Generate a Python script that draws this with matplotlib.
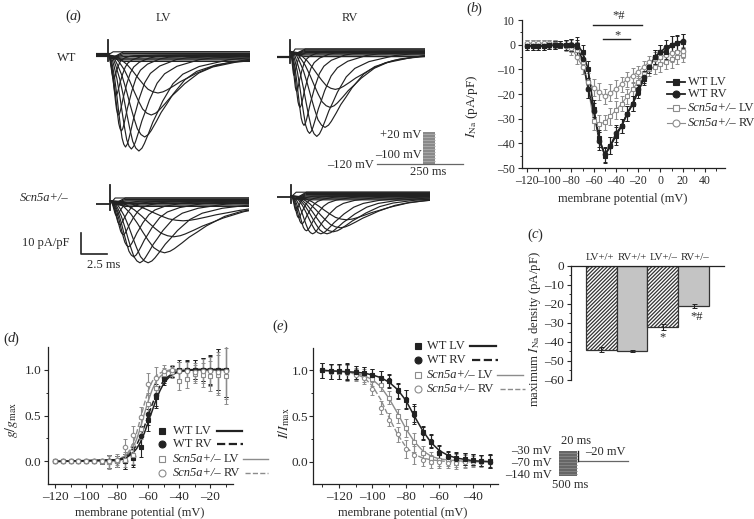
import numpy as np
import matplotlib
matplotlib.use('Agg')
import matplotlib.pyplot as plt
from matplotlib.ticker import MultipleLocator, FuncFormatter

plt.rcParams['font.family'] = ['Liberation Serif', 'DejaVu Sans']
plt.rcParams['mathtext.fontset'] = 'stix'
plt.rcParams['hatch.linewidth'] = 0.9
plt.rcParams['axes.linewidth'] = 0.9

W, H = 754, 519
DARK = '#222222'
GREY = '#8c8c8c'
TXT = '#2a2a2a'

# (a) current traces: time to peak (ms) and peak depth (pA/pF) of each trace
wt_lv_t = [0.55, 0.8, 1.03, 1.3, 1.7, 2.27, 3.0, 3.56, 4.2, 4.85]
wt_lv_i = [12, 20, 30, 38, 46, 47, 48, 41, 30, 19]
wt_rv_t = [0.4, 0.65, 0.97, 1.36, 1.9, 2.6, 3.4, 3.9, 4.4]
wt_rv_i = [12, 20, 28, 37, 41, 42.5, 38, 28, 19]
ko_lv_t = [0.65, 0.97, 1.3, 1.8, 2.3, 2.9, 3.7, 5.3, 6.2, 7.1]
ko_lv_i = [7.5, 12, 17, 23, 28, 31, 31, 26, 18, 10]
ko_rv_t = [0.5, 0.75, 1.07, 1.5, 2.1, 2.9, 3.5, 4.1, 4.8, 5.4]
ko_rv_i = [7.5, 11, 14, 17.5, 19, 19, 19, 18, 16, 12]

# shape of one trace
rise_u = [-1.0, -0.84, -0.74, -0.62, -0.5, -0.4, -0.3, -0.2, -0.1, 0.0]
rise_v = [0.0, 0.03, 0.12, 0.25, 0.43, 0.6, 0.76, 0.9, 0.97, 1.0]
fall_u = [0.1, 0.18, 0.32, 0.45, 0.6, 0.77, 1.1, 1.42, 1.95, 2.9, 3.5, 8.0]
fall_v = [0.97, 0.92, 0.81, 0.7, 0.6, 0.48, 0.3, 0.2, 0.12, 0.05, 0.03, 0.0]

# (b) current-voltage
iv_v = [-120, -115, -110, -105, -100, -95, -90, -85, -80, -75, -70, -65, -60, -55, -50,
        -45, -40, -35, -30, -25, -20, -15, -10, -5, 0, 5, 10, 15, 20]
iv_wt_lv = [-0.5, -0.5, -0.5, -0.5, -0.3, -0.2, 0, 0, 0, 0, -3, -10, -26, -38, -45,
            -41, -37, -33, -28, -24, -19, -14, -9, -5, -3, -3, 0, 0.5, 1.2]
iv_wt_rv = [-0.5, -0.5, -0.5, -0.5, -0.3, -0.2, 0, 0, 0, -1, -6, -18, -27, -39, -44.5,
            -41, -36, -33, -28, -24, -18, -13, -9, -5, -3, -1, 0, 0.8, 1.5]
iv_ko_lv = [0.3, 0.3, 0.3, 0.3, 0.3, 0.2, 0, -0.3, -0.5, -2, -7, -18, -31, -32, -31.5,
            -29, -26.5, -24, -21, -18, -15, -12, -10, -9, -8, -7, -6, -5, -4]
iv_ko_rv = [0.5, 0.5, 0.5, 0.5, 0.5, 0.3, 0, -0.5, -1.5, -5, -9, -15, -17.5, -19, -21,
            -19.5, -18, -16, -14, -12.5, -11, -9, -7, -6, -5, -4, -3.5, -3, -2.5]
iv_err = [1.5, 1.5, 1.5, 1.5, 1.5, 1.5, 1.5, 2, 2.5, 3, 3, 3.5, 3.5, 3.5, 3,
          3.5, 3.5, 3, 3, 3, 2.5, 2.5, 2.5, 3, 3, 3, 3.5, 3, 3]

# (c) peak density
c_labels = ['LV+/+', 'RV+/+', 'LV+/\u2013', 'RV+/\u2013']
c_values = [-44, -45, -32, -21]
c_err = [1.5, 0.5, 1.5, 1]

# (d) activation
act_v = [-120, -115, -110, -105, -100, -95, -90, -85, -80, -75, -70, -65, -60, -55, -50,
         -45, -40, -35, -30, -25, -20, -15, -10]
act_wt_lv = [0, 0, 0, 0, 0, 0, 0, 0, 0, 0, 0.04, 0.16, 0.45, 0.7, 0.9,
             0.98, 1.0, 1.0, 1.0, 1.0, 1.0, 1.0, 1.0]
act_wt_rv = [0, 0, 0, 0, 0, 0, 0, 0, 0, 0, 0.06, 0.28, 0.52, 0.72, 0.92,
             0.98, 0.98, 0.99, 1.0, 1.0, 0.99, 1.0, 1.0]
act_ko_lv = [0, 0, 0, 0, 0, 0, 0, -0.01, 0, 0.02, 0.07, 0.35, 0.62, 0.8, 0.95,
             0.97, 0.88, 0.9, 0.95, 0.94, 0.93, 0.94, 0.93]
act_ko_rv = [0, 0, 0, 0, 0, 0, 0, 0, 0.02, 0.16, 0.29, 0.48, 0.84, 0.91, 0.98,
             0.99, 0.98, 0.98, 0.97, 0.98, 0.98, 0.97, 0.98]
act_err = [0.02, 0.02, 0.02, 0.02, 0.02, 0.02, 0.03, 0.07, 0.06, 0.08, 0.1, 0.11, 0.12, 0.12, 0.07,
           0.06, 0.1, 0.1, 0.1, 0.13, 0.16, 0.22, 0.3]

fit_d_v = [-120, -80, -75, -72.5, -70, -67.5, -65, -62.5, -60, -57.5, -55, -52.5, -50, -47.5, -45, -42.5, -40, -35, -30, -10]
fit_d_wt_lv = [0, 0.01, 0.03, 0.06, 0.09, 0.14, 0.21, 0.31, 0.43, 0.55, 0.67, 0.77, 0.85, 0.9, 0.94, 0.96, 0.98, 0.99, 1, 1]
fit_d_wt_rv = [0, 0.02, 0.04, 0.07, 0.12, 0.18, 0.27, 0.38, 0.5, 0.62, 0.73, 0.82, 0.88, 0.92, 0.95, 0.97, 0.98, 0.99, 1, 1]
fit_d_ko_lv = [0, 0.02, 0.05, 0.09, 0.15, 0.24, 0.37, 0.52, 0.66, 0.78, 0.87, 0.92, 0.96, 0.98, 0.99, 0.99, 1, 1, 1, 1]
fit_d_ko_rv = [0, 0.02, 0.06, 0.11, 0.19, 0.31, 0.47, 0.63, 0.77, 0.87, 0.93, 0.96, 0.98, 0.99, 1, 1, 1, 1, 1, 1]

# (e) inactivation
ina_v = [-130, -125, -120, -115, -110, -105, -100, -95, -90, -85, -80, -75, -70, -65, -60,
         -55, -50, -45, -40, -35, -30]
ina_wt_lv = [1.0, 0.99, 0.99, 0.99, 0.98, 0.97, 0.95, 0.92, 0.88, 0.78, 0.68, 0.53, 0.32, 0.22, 0.1,
             0.06, 0.04, 0.03, 0.02, 0.01, 0.01]
ina_wt_rv = [1.0, 0.99, 0.99, 0.98, 0.98, 0.97, 0.95, 0.92, 0.89, 0.77, 0.69, 0.51, 0.31, 0.23, 0.11,
             0.05, 0.03, 0.03, 0.02, 0.01, 0.0]
ina_ko_lv = [1.0, 0.99, 0.98, 0.98, 0.96, 0.94, 0.9, 0.84, 0.7, 0.5, 0.37, 0.21, 0.1, 0.04, 0.02,
             0.01, 0.01, 0.01, 0.01, 0.01, 0.0]
ina_ko_rv = [1.0, 0.98, 0.98, 0.97, 0.95, 0.92, 0.8, 0.59, 0.46, 0.3, 0.14, 0.07, 0.02, 0.0, 0.0,
             -0.01, -0.01, 0.0, 0.0, 0.0, 0.0]
ina_err = [0.08, 0.08, 0.08, 0.09, 0.07, 0.07, 0.07, 0.07, 0.07, 0.08, 0.1, 0.1, 0.07, 0.07, 0.07,
           0.06, 0.07, 0.07, 0.06, 0.06, 0.07]

fit_e_v = [-130, -120, -110, -105, -100, -95, -90, -85, -80, -75, -70, -65, -60, -55, -50, -40, -30]
fit_e_wt = [1.0, 0.99, 0.98, 0.97, 0.95, 0.92, 0.87, 0.79, 0.67, 0.5, 0.34, 0.21, 0.12, 0.07, 0.04, 0.01, 0.0]
fit_e_ko_lv = [1.0, 0.99, 0.97, 0.94, 0.9, 0.82, 0.69, 0.53, 0.36, 0.22, 0.12, 0.06, 0.03, 0.02, 0.01, 0.0, 0.0]
fit_e_ko_rv = [1.0, 0.99, 0.96, 0.92, 0.83, 0.68, 0.48, 0.3, 0.16, 0.08, 0.04, 0.02, 0.01, 0.0, 0.0, 0.0, 0.0]

fig = plt.figure(figsize=(W / 100, H / 100), dpi=100)


def px_axes(left, top, right, bottom):
    return fig.add_axes([left / W, 1 - bottom / H, (right - left) / W, (bottom - top) / H])


def trace_panel(left, right, stim_x, base_y, pre, post, spike, peak_t, peak_i, bands, lw_pre):
    # 10.3 px per ms, 2 px per pA/pF
    top, bottom = base_y - 25, base_y + 110
    ax = px_axes(left, top, right, bottom)
    ax.set_xlim((left - stim_x) / 10.3, (right - stim_x) / 10.3)
    ax.set_ylim((base_y - bottom) / 2, (base_y - top) / 2)
    ax.axis('off')
    t0, t1 = ax.get_xlim()
    ax.plot([t0, 0], [pre, pre], color=DARK, lw=lw_pre)
    ax.plot([0, 0], [pre - 3, spike], color=DARK, lw=1.3)
    ax.plot([0, 0.5, t1], [pre, post + bands[0], post + bands[0]], color=DARK, lw=0.8)
    for b in bands:
        ax.plot([0.4, 1.5, t1], [post - 1.5, post + b, post + b], color=DARK, lw=0.9)
    u = np.array(rise_u + fall_u)
    v = np.array(rise_v + fall_v)
    for pt, pi in zip(peak_t, peak_i):
        ax.plot(np.append(pt * (1 + u), t1), np.append(post - pi * v, post),
                color=DARK, lw=0.85, solid_joinstyle='round')
    return ax


trace_panel(96, 250, 108, 55, 0, 0, 7.5, wt_lv_t, wt_lv_i, [1.6, 0.8, 0, -0.8, -1.6, -2.4, -3.2], 3.0)
trace_panel(277, 425, 290, 57, 0, 2.8, 8.3, wt_rv_t, wt_rv_i, [1.2, 0.6, 0, -0.6, -1.2, -1.8, -2.6], 1.6)
trace_panel(96, 249, 110, 204, 0, 1.6, 9.5, ko_lv_t, ko_lv_i, [1.4, 0.7, 0, -0.7, -1.4, -2.1, -2.8], 1.3)
trace_panel(277, 430, 291, 197, 0, 0.6, 6, ko_rv_t, ko_rv_i, [1.8, 1.2, 0.6, 0, -0.6, -1.2, -2], 1.3)

dash_fmt = FuncFormatter(lambda v, pos: f'{v:.0f}'.replace('-', '\u2013'))


def style_axis(ax, size=9.5, pad=2):
    for s in ['top', 'right']:
        ax.spines[s].set_visible(False)
    for s in ['left', 'bottom']:
        ax.spines[s].set_color(DARK)
    ax.tick_params(which='major', length=3, width=0.8, labelsize=size, colors=TXT, pad=pad)
    ax.tick_params(which='minor', length=1.8, width=0.7, colors=TXT)
    ax.patch.set_alpha(0)


def series(ax, x, y, err, marker, filled, ms):
    col = DARK if filled else GREY
    ax.errorbar(x, y, yerr=err, color=col, lw=0, elinewidth=0.8, capsize=1.5, capthick=0.7, zorder=3)
    ax.plot(x, y, ls='none', marker=marker, ms=ms, mfc=col if filled else 'white', mec=col, mew=0.8, zorder=4)


# (b)
ax_b = px_axes(522, 20, 725, 168)
ax_b.set_xlim(-124.5, 58)
ax_b.set_ylim(-50, 10)
style_axis(ax_b, 8.5)
ax_b.set_xticks(np.arange(-120, 41, 20))
ax_b.xaxis.set_minor_locator(MultipleLocator(10))
ax_b.xaxis.set_major_formatter(dash_fmt)
ax_b.set_yticks(np.arange(-50, 11, 10))
ax_b.yaxis.set_minor_locator(MultipleLocator(5))
ax_b.yaxis.set_major_formatter(dash_fmt)
for y, m, f in [(iv_ko_lv, 's', False), (iv_ko_rv, 'o', False), (iv_wt_lv, 's', True), (iv_wt_rv, 'o', True)]:
    ax_b.plot(iv_v, y, color=DARK if f else GREY, lw=1.2 if f else 0.8, zorder=2)
    series(ax_b, iv_v, y, iv_err, m, f, 3.3)
ax_b.plot([-61, -17], [8, 8], color=DARK, lw=1, clip_on=False)
ax_b.plot([-52, -27], [2.5, 2.5], color=DARK, lw=1, clip_on=False)

# (c)
ax_c = px_axes(570.7, 265.7, 724, 380)
ax_c.set_xlim(-0.985, 3.976)
ax_c.set_ylim(-60, 0)
style_axis(ax_c, 9.5)
ax_c.spines['bottom'].set_visible(False)
ax_c.spines['top'].set_visible(True)
ax_c.spines['top'].set_color(DARK)
ax_c.set_xticks([])
ax_c.set_yticks(np.arange(-60, 1, 10))
ax_c.yaxis.set_minor_locator(MultipleLocator(5))
ax_c.yaxis.set_major_formatter(dash_fmt)
for i, (val, er) in enumerate(zip(c_values, c_err)):
    if i % 2 == 0:
        ax_c.bar(i, val, width=1, facecolor='white', edgecolor='#333333', hatch='/////////', lw=0.9)
    else:
        ax_c.bar(i, val, width=1, facecolor='#c4c4c4', edgecolor='#333333', lw=0.9)
    ax_c.errorbar(i, val, yerr=er, color=DARK, elinewidth=0.8, capsize=1.8, capthick=0.7)

# (d)
ax_d = px_axes(48, 347, 233, 484)
ax_d.set_xlim(-124.5, -5.5)
ax_d.set_ylim(-0.245, 1.245)
style_axis(ax_d)
ax_d.set_xticks(np.arange(-120, -19, 20))
ax_d.xaxis.set_minor_locator(MultipleLocator(10))
ax_d.xaxis.set_major_formatter(dash_fmt)
ax_d.set_yticks([0, 0.5, 1.0])
ax_d.yaxis.set_minor_locator(MultipleLocator(0.25))
ax_d.plot(fit_d_v, fit_d_ko_lv, color=GREY, lw=1)
ax_d.plot(fit_d_v, fit_d_ko_rv, color=GREY, lw=1, ls='--')
ax_d.plot(fit_d_v, fit_d_wt_lv, color=DARK, lw=1.1)
ax_d.plot(fit_d_v, fit_d_wt_rv, color=DARK, lw=1.1, ls='--')
series(ax_d, act_v, act_wt_lv, act_err, 's', True, 3.2)
series(ax_d, act_v, act_wt_rv, act_err, 'o', True, 3.2)
series(ax_d, act_v, act_ko_lv, act_err, 's', False, 3.2)
series(ax_d, act_v, act_ko_rv, act_err, 'o', False, 3.2)

# (e)
ax_e = px_axes(313, 348, 498, 484)
ax_e.set_xlim(-135.5, -25)
ax_e.set_ylim(-0.245, 1.245)
style_axis(ax_e, pad=0.5)
ax_e.tick_params(axis='x', pad=2)
ax_e.set_xticks(np.arange(-120, -39, 20))
ax_e.xaxis.set_minor_locator(MultipleLocator(10))
ax_e.xaxis.set_major_formatter(dash_fmt)
ax_e.set_yticks([0, 0.5, 1.0])
ax_e.yaxis.set_minor_locator(MultipleLocator(0.25))
ax_e.plot(fit_e_v, fit_e_ko_lv, color=GREY, lw=1)
ax_e.plot(fit_e_v, fit_e_ko_rv, color=GREY, lw=1, ls='--')
ax_e.plot(fit_e_v, fit_e_wt, color=DARK, lw=1.1)
series(ax_e, ina_v, ina_ko_lv, ina_err, 's', False, 3)
series(ax_e, ina_v, ina_ko_rv, ina_err, 'o', False, 3)
series(ax_e, ina_v, ina_wt_lv, ina_err, 's', True, 3)
series(ax_e, ina_v, ina_wt_rv, ina_err, 'o', True, 3)

# annotations in figure pixels
ov = fig.add_axes([0, 0, 1, 1], zorder=10)
ov.set_xlim(0, W)
ov.set_ylim(H, 0)
ov.axis('off')


def label(x, y, s, ha='left', size=9, style='normal', rot=0):
    ov.text(x, y, s, ha=ha, va='center', fontsize=size, style=style, rotation=rot, color=TXT)


for x, y, s in [(65, 16, 'a'), (466, 9, 'b'), (527, 235, 'c'), (3, 339, 'd'), (272, 326, 'e')]:
    ov.text(x, y, '(', ha='left', va='center', fontsize=10.5, color=TXT)
    ov.text(x + 4.5, y, s, ha='left', va='center', fontsize=10.5, style='italic', color=TXT)
    ov.text(x + 10.5, y, ')', ha='left', va='center', fontsize=10.5, color=TXT)

label(163, 18, 'LV', 'center')
label(350, 18, 'RV', 'center')
label(57, 58, 'WT')
label(20, 198, 'Scn5a+/\u2013', style='italic')
label(22, 243, '10 pA/pF')
label(87, 265, '2.5 ms')
ov.plot([80.7, 80.7, 106.7], [233, 253.7, 253.7], color=DARK, lw=1.2)

# stimulus of (a)
label(421.7, 135, '+20 mV', 'right')
label(421.7, 155, '\u2013100 mV', 'right')
label(374, 164.7, '\u2013120 mV', 'right')
label(428, 172, '250 ms', 'center')
ov.plot([376.7, 462.7], [164, 164], color='#666666', lw=0.9)
ov.fill_between([423.3, 435], 131.7, 164, color='#8a8a8a', lw=0)
for y in np.arange(134, 164, 3):
    ov.plot([423.3, 435], [y, y], color='#b5b5b5', lw=0.5)

# stimulus of (e)
label(575.7, 440.7, '20 ms', 'center')
label(585, 451.7, '\u201320 mV')
label(551.7, 450.7, '\u201330 mV', 'right')
label(551.7, 463, '\u201370 mV', 'right')
label(551.7, 475, '\u2013140 mV', 'right')
label(570, 485, '500 ms', 'center')
ov.fill_between([559.3, 576.7], 451, 476, color='#666666', lw=0)
for y in np.arange(453, 476, 3):
    ov.plot([559.3, 576.7], [y, y], color='#8f8f8f', lw=0.5)
ov.plot([577.5, 628], [460.7, 460.7], color='#666666', lw=0.9)
ov.plot([577.5, 577.5], [451, 461], color=DARK, lw=1)

# (b) texts
label(619, 16, '*#', 'center')
label(618, 35, '*', 'center')
ov.text(472, 106, r'$\mathit{I}_{\mathrm{Na}}$ (pA/pF)', rotation=90, ha='center', va='center', fontsize=9.5, color=TXT)
label(623, 199, 'membrane potential (mV)', 'center')

# (c) texts
for x, s in zip([600, 632, 663.7, 694.7], c_labels):
    label(x, 257.7, s, 'center', size=7.8)
label(663, 337, '*', 'center')
label(697, 317, '*#', 'center')
ov.text(535, 329, r'maximum $\mathit{I}_{\mathrm{Na}}$ density (pA/pF)', rotation=90, ha='center', va='center', fontsize=9.2, color=TXT)

# (d), (e) texts
ov.text(11, 420, r'$\mathit{g/g}_{\mathrm{max}}$', rotation=90, ha='center', va='center', fontsize=10, color=TXT)
label(140, 512.7, 'membrane potential (mV)', 'center')
ov.text(284, 423, r'$\mathit{I/I}_{\mathrm{max}}$', rotation=90, ha='center', va='center', fontsize=10, color=TXT)
label(402.7, 512.7, 'membrane potential (mV)', 'center')

# legends
row_names = ['WT LV', 'WT RV', 'Scn5a+/\u2013 LV', 'Scn5a+/\u2013 RV']
row_style = [('s', True), ('o', True), ('s', False), ('o', False)]


def legend_name(x, y, name):
    if name.startswith('Scn'):
        t = ov.text(x, y, 'Scn5a+/\u2013', va='center', fontsize=9, style='italic', color=TXT)
        bb = t.get_window_extent(fig.canvas.get_renderer())
        ov.text(x + bb.width + 2.5, y, name.split(' ')[1], va='center', fontsize=9, color=TXT)
    else:
        ov.text(x, y, name, va='center', fontsize=9, color=TXT)


# (b) legend, line through the marker
for y, name, (m, f) in zip([81.7, 94.3, 108.3, 122.7], row_names, row_style):
    col = DARK if f else GREY
    ov.plot([667, 685], [y, y], color=col, lw=1.3 if f else 0.8)
    ov.plot([676], [y], marker=m, ms=5, mfc=col if f else 'white', mec=col, mew=0.8)
    legend_name(688, y, name)

# (d) legend, marker then text then line
d_lines = [(216.7, 241.7), (217, 243), (243, 268), (245, 268)]
for y, name, (m, f), (a, b), ls in zip([430.7, 444, 459.3, 472.7], row_names, row_style, d_lines, ['-', '--', '-', '--']):
    col = DARK if f else GREY
    ov.plot([161.7], [y], marker=m, ms=5, mfc=col if f else 'white', mec=col, mew=0.8)
    legend_name(173, y, name)
    ov.plot([a, b], [y, y], color=col, lw=1.6 if f else 1, ls=ls)

# (e) legend
e_lines = [(470, 496), (472, 498), (497, 523), (500, 525)]
for y, name, (m, f), (a, b), ls in zip([346, 360, 375, 389], row_names, row_style, e_lines, ['-', '--', '-', '--']):
    col = DARK if f else GREY
    ov.plot([418], [y], marker=m, ms=5, mfc=col if f else 'white', mec=col, mew=0.8)
    legend_name(426.7, y, name)
    ov.plot([a, b], [y, y], color=col, lw=1.6 if f else 1, ls=ls)

fig.savefig('out.png', dpi=100)
